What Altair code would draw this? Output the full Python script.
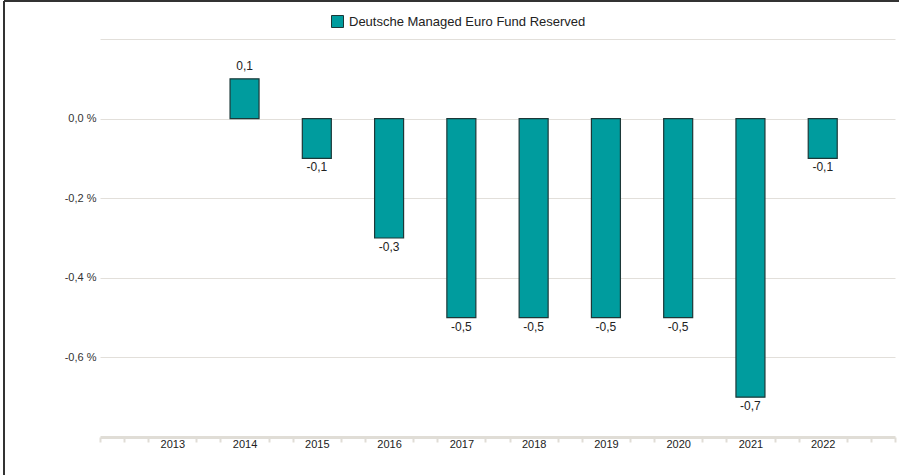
import altair as alt
import pandas as pd

years = [2014, 2015, 2016, 2017, 2018, 2019, 2020, 2021, 2022]
values = [0.1, -0.1, -0.3, -0.5, -0.5, -0.5, -0.5, -0.7, -0.1]
series_name = "Deutsche Managed Euro Fund Reserved"
y_ticks = [0.2, 0.0, -0.2, -0.4, -0.6]
x_tick_values = [2012 + k / 3 for k in range(34)]

df = pd.DataFrame({"year": years, "value": values, "series": series_name})

FONT = "Arial, Liberation Sans"
TEAL = "#009C9E"
EDGE = "#1c3838"
GRID = "#e2dfda"

label_hidden = "abs(datum.value - round(datum.value)) < 0.01 && datum.value > 2012.5 && datum.value < 2022.5"

x_enc = alt.X(
    "year:Q",
    scale=alt.Scale(domain=[2012, 2023], nice=False, zero=False, padding=0),
    axis=alt.Axis(
        values=x_tick_values,
        tickCount=100,
        title=None,
        grid=False,
        domainColor="#e0ddd6",
        domainWidth=3,
        tickColor="#e0ddd6",
        tickWidth=2,
        tickSize=5,
        tickOpacity={"condition": {"test": label_hidden, "value": 0}, "value": 1},
        labelExpr="(abs(datum.value - round(datum.value)) < 0.01 && datum.value > 2012.5 && datum.value < 2022.5) ? format(round(datum.value), 'd') : ''",
        labelFont=FONT,
        labelFontSize=11,
        labelColor="#222222",
        labelPadding=-4,
        labelBaseline="top",
        labelOverlap=False,
        labelFlush=False,
    ),
)

y_enc = alt.Y(
    "value:Q",
    scale=alt.Scale(domain=[-0.8, 0.2], nice=False),
    axis=alt.Axis(
        values=y_ticks,
        title=None,
        domain=False,
        ticks=False,
        grid=True,
        gridColor=GRID,
        gridWidth=1,
        labelExpr="datum.value > 0.1 ? '' : replace((datum.value < -0.001 ? '-' : '') + format(abs(datum.value), '.1f'), '.', ',') + ' %'",
        labelFont=FONT,
        labelFontSize=11,
        labelColor="#333333",
        labelPadding=4,
    ),
)

bars = alt.Chart(df).mark_bar(size=29, stroke=EDGE, strokeWidth=1.2).encode(
    x=x_enc,
    y=y_enc,
    color=alt.Color(
        "series:N",
        scale=alt.Scale(range=[TEAL]),
        legend=alt.Legend(
            orient="none",
            legendX=231,
            legendY=-24,
            title=None,
            symbolType="square",
            symbolSize=144,
            symbolStrokeColor=EDGE,
            symbolStrokeWidth=1,
            symbolOpacity=1,
            labelFont=FONT,
            labelFontSize=13,
            labelColor="#222222",
            labelOffset=5,
            labelLimit=500,
        ),
    ),
)

text_df = df.assign(
    label=[("-" if v < 0 else "") + f"{abs(v):.1f}".replace(".", ",") for v in values]
)

pos_text = alt.Chart(text_df).transform_filter("datum.value >= 0").mark_text(
    baseline="bottom", dy=-6, font=FONT, fontSize=12, color="#222222"
).encode(x="year:Q", y="value:Q", text="label:N")

neg_text = alt.Chart(text_df).transform_filter("datum.value < 0").mark_text(
    baseline="top", dy=4, font=FONT, fontSize=12, color="#222222"
).encode(x="year:Q", y="value:Q", text="label:N")

frame_top = alt.Chart(df).mark_rule(color="#333333", strokeWidth=2).encode(
    x=alt.value(-96), x2=alt.value(800), y=alt.value(-38)
)
frame_left = alt.Chart(df).mark_rule(color="#333333", strokeWidth=2).encode(
    x=alt.value(-96), y=alt.value(-38), y2=alt.value(437)
)

chart = (
    alt.layer(bars, pos_text, neg_text, frame_top, frame_left)
    .properties(
        width=795,
        height=398,
        autosize=alt.AutoSizeParams(type="none"),
        padding={"left": 100, "top": 39, "right": 4, "bottom": 38},
        background="white",
    )
    .configure_view(stroke=None)
)

chart.save("out.html", embed_options={"renderer": "svg", "actions": False})
